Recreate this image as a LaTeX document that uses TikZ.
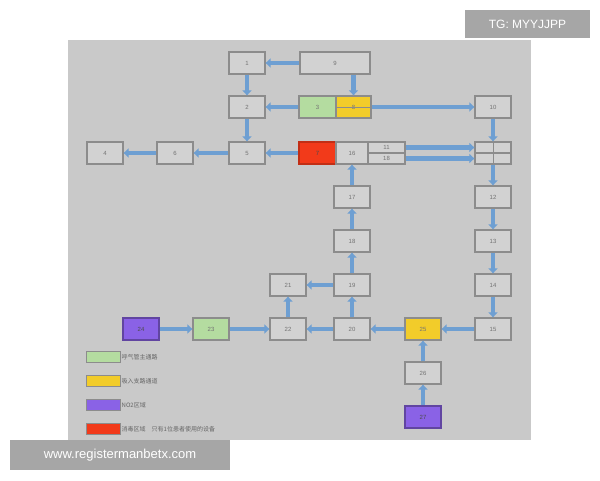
\documentclass[tikz,border=0pt]{standalone}
\usepackage{fontspec}
\setmainfont{Liberation Sans}
\newfontfamily\cjk{Noto Sans CJK SC}
\usetikzlibrary{arrows.meta}
\definecolor{panel}{HTML}{C9C9C9}
\definecolor{boxfill}{HTML}{D2D2D2}
\definecolor{boxline}{HTML}{8C8C8C}
\definecolor{flow}{HTML}{6E9FD2}
\definecolor{gr}{HTML}{B4DCA0}
\definecolor{ye}{HTML}{F2CC2A}
\definecolor{pu}{HTML}{8A62E6}
\definecolor{re}{HTML}{F23A1A}
\definecolor{wm}{HTML}{A6A6A6}
\tikzset{
  box/.style={draw=boxline, line width=1.3pt, fill=boxfill, minimum width=36pt, minimum height=22pt, inner sep=0pt, font=\fontsize{6}{7}\selectfont, text=black!55},
  wide/.style={box, minimum width=70pt},
  grbox/.style={box, fill=gr},
  yebox/.style={box, fill=ye},
  pubox/.style={box, fill=pu, draw=pu!70!black, text=black!70},
  rebox/.style={box, fill=re, draw=re!80!black, text=black!70},
  arr/.style={draw=flow, line width=4.5pt, -{Triangle[width=9pt,length=5pt]}},
  sw/.style={draw=boxline, line width=1pt, minimum width=34pt, minimum height=11pt, inner sep=0pt},
  legtext/.style={anchor=west, font=\cjk\fontsize{6}{7}\selectfont, text=black!60, inner sep=1pt},
  wmark/.style={fill=wm, text=white, inner sep=0pt}
}
\begin{document}
\begin{tikzpicture}[x=1pt,y=-1pt]
\useasboundingbox (0,0) rectangle (600,480);
\fill[white] (0,0) rectangle (600,480);
\fill[panel] (68,40) rectangle (531,440);

% nodes
\node[box] (n1) at (247,63) {1};
\node[wide] (n9) at (335,63) {9};
\node[box] (n2) at (247,107) {2};
\node[grbox, minimum width=37pt] (n3) at (317.5,107) {3};
\node[yebox, minimum width=35pt] (n8) at (353.5,107) {8};
\draw[boxline, line width=0.8pt] (n8.west|-n8.center) -- (n8.east|-n8.center);
\node[box] (n10) at (493,107) {10};

\node[box] (n4) at (105,153) {4};
\node[box] (n6) at (175,153) {6};
\node[box] (n5) at (247,153) {5};
\node[rebox, minimum width=37pt] (n7) at (317.5,153) {7};
\node[box, minimum width=32pt] (n16) at (352,153) {16};
\node[box, minimum width=37pt, minimum height=11pt] (n16a) at (386.5,147.5) {11};
\node[box, minimum width=37pt, minimum height=11pt] (n16b) at (386.5,158.5) {18};
\node[box, minimum height=11pt] (n11a) at (493,147.5) {};
\node[box, minimum height=11pt] (n11b) at (493,158.5) {};
\draw[boxline, line width=0.8pt] (n11a.north) -- (n11b.south);

\node[box] (n17) at (352,197) {17};
\node[box] (n18) at (352,241) {18};
\node[box] (n19) at (352,285) {19};
\node[box] (n21) at (288,285) {21};
\node[box] (n12) at (493,197) {12};
\node[box] (n13) at (493,241) {13};
\node[box] (n14) at (493,285) {14};

\node[pubox] (n24) at (141,329) {24};
\node[grbox] (n23) at (211,329) {23};
\node[box] (n22) at (288,329) {22};
\node[box] (n20) at (352,329) {20};
\node[yebox] (n25) at (423,329) {25};
\node[box] (n15) at (493,329) {15};
\node[box] (n26) at (423,373) {26};
\node[pubox] (n27) at (423,417) {27};

% connectors
\draw[arr] (n9) -- (n1);
\draw[arr] (n1) -- (n2);
\draw[arr] (n9.south -| n8) -- (n8);
\draw[arr] (n3) -- (n2);
\draw[arr] (n8) -- (n10);
\draw[arr] (n2) -- (n5);
\draw[arr] (n6) -- (n4);
\draw[arr] (n5) -- (n6);
\draw[arr] (n7) -- (n5);
\draw[arr] (n16a) -- (n11a);
\draw[arr] (n16b) -- (n11b);
\draw[arr] (n10) -- (n11a);
\draw[arr] (n11b) -- (n12);
\draw[arr] (n12) -- (n13);
\draw[arr] (n13) -- (n14);
\draw[arr] (n14) -- (n15);
\draw[arr] (n17) -- (n16);
\draw[arr] (n18) -- (n17);
\draw[arr] (n19) -- (n18);
\draw[arr] (n20) -- (n19);
\draw[arr] (n19) -- (n21);
\draw[arr] (n22) -- (n21);
\draw[arr] (n24) -- (n23);
\draw[arr] (n23) -- (n22);
\draw[arr] (n20) -- (n22);
\draw[arr] (n25) -- (n20);
\draw[arr] (n15) -- (n25);
\draw[arr] (n26) -- (n25);
\draw[arr] (n27) -- (n26);

% legend
\node[sw, fill=gr] (lg) at (103,357) {};
\node[legtext] (lgt) at (lg.east) {呼气管主通路};
\node[sw, fill=ye] (ly) at (103,381) {};
\node[legtext] (lyt) at (ly.east) {吸入支路通道};
\node[sw, fill=pu] (lp) at (103,405) {};
\node[legtext] (lpt) at (lp.east) {NO2区域};
\node[sw, fill=re] (lr) at (103,429) {};
\node[legtext] (lrt) at (lr.east) {消毒区域\quad 只有1位患者使用的设备};

% watermarks
\node[wmark, minimum width=125pt, minimum height=28pt, font=\fontsize{12}{14}\selectfont] (tg) at (527.5,24) {TG: MYYJJPP};
\node[wmark, minimum width=220pt, minimum height=30pt, font=\fontsize{13}{15}\selectfont] (www) at (120,455) {www.registermanbetx.com};
\end{tikzpicture}
\end{document}
